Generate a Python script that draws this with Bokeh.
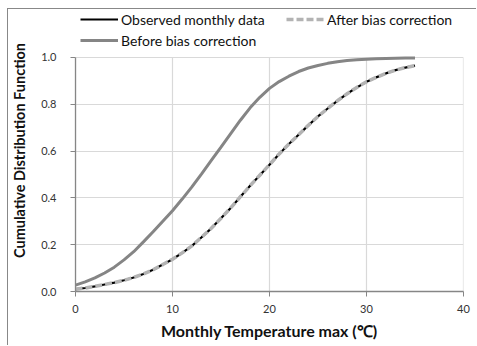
from bokeh.plotting import figure
from bokeh.models import Legend, LegendItem, NumeralTickFormatter, FixedTicker, Range1d
from bokeh.embed import file_html
from bokeh.resources import INLINE

# Temperatures (deg C) at which the curves were read
temp = [0, 1, 2, 3, 4, 5, 6, 7, 8, 9, 10, 11, 12, 13, 14, 15, 16, 17, 18,
        19, 20, 21, 22, 23, 24, 25, 26, 27, 28, 29, 30, 31, 32, 33, 34, 35]

# Observed monthly data (CDF)
obs_y = [0.010, 0.015, 0.022, 0.030, 0.038, 0.048, 0.060, 0.075, 0.093, 0.115,
         0.138, 0.165, 0.195, 0.232, 0.270, 0.313, 0.357, 0.405, 0.452, 0.497,
         0.542, 0.588, 0.630, 0.670, 0.710, 0.748, 0.782, 0.815, 0.845, 0.872,
         0.896, 0.915, 0.932, 0.946, 0.957, 0.965]

# After bias correction (CDF)
aft_y = [0.010, 0.015, 0.022, 0.030, 0.038, 0.048, 0.060, 0.075, 0.093, 0.115,
         0.138, 0.165, 0.195, 0.232, 0.270, 0.313, 0.357, 0.405, 0.452, 0.497,
         0.542, 0.588, 0.630, 0.670, 0.710, 0.748, 0.782, 0.815, 0.845, 0.872,
         0.896, 0.915, 0.932, 0.946, 0.957, 0.965]

# Before bias correction (CDF)
bef_y = [0.027, 0.041, 0.058, 0.079, 0.104, 0.135, 0.170, 0.212, 0.255, 0.300,
         0.345, 0.395, 0.447, 0.503, 0.560, 0.617, 0.675, 0.732, 0.785, 0.830,
         0.868, 0.897, 0.920, 0.940, 0.955, 0.966, 0.975, 0.982, 0.987, 0.990,
         0.993, 0.995, 0.996, 0.997, 0.998, 0.998]

x_ticks = [0, 10, 20, 30, 40]
y_ticks = [0.0, 0.2, 0.4, 0.6, 0.8, 1.0]

FONT = "Lato"
GRID = "#d9d9d9"
AXIS = "#868686"

p = figure(width=469, height=337, output_backend="svg", toolbar_location=None,
           x_range=Range1d(0, 40), y_range=Range1d(0, 1.2051),
           min_border_left=66, min_border_right=14, min_border_top=0,
           min_border_bottom=55)
p.styles = {"margin-left": "7px", "margin-top": "8px",
            "border-left": "1px solid #888888", "border-top": "1px solid #888888"}

p.outline_line_color = None
p.background_fill_color = "white"

# vertical gridlines only over the 0..1 span
p.xgrid.grid_line_color = None
p.segment(x0=x_ticks, y0=[y_ticks[0]] * len(x_ticks), x1=x_ticks,
          y1=[y_ticks[-1]] * len(x_ticks), line_color=GRID, line_width=1.2,
          level="underlay")
p.ygrid.grid_line_color = GRID
p.ygrid.grid_line_width = 1.2

r_bef = p.line(temp, bef_y, line_color="#858585", line_width=3)
r_obs = p.line(temp, obs_y, line_color="black", line_width=2.2)
r_aft = p.line(temp, aft_y, line_color="#b3b3b3", line_width=3.5, line_dash="7 3")

for ax in (p.xaxis[0], p.yaxis[0]):
    ax.axis_line_color = AXIS
    ax.axis_line_width = 1.3
    ax.major_tick_line_color = AXIS
    ax.major_tick_in = 0
    ax.major_tick_out = 5
    ax.minor_tick_line_color = None
    ax.major_label_text_font = FONT
    ax.major_label_text_font_size = "11px"
    ax.major_label_text_color = "#333333"
    ax.axis_label_text_font = FONT
    ax.axis_label_text_font_style = "bold"
    ax.axis_label_text_color = "#111111"

p.xaxis.ticker = FixedTicker(ticks=x_ticks)
p.yaxis.ticker = FixedTicker(ticks=y_ticks)
p.yaxis.bounds = (y_ticks[0], y_ticks[-1])
p.yaxis.formatter = NumeralTickFormatter(format="0.0")
p.xaxis.axis_label = "Monthly Temperature max (℃)"
p.yaxis.axis_label = "Cumulative Distribution Function"
p.xaxis.axis_label_text_font_size = "16px"
p.yaxis.axis_label_text_font_size = "14.5px"
p.xaxis.major_label_standoff = 8
p.yaxis.major_label_standoff = 14
p.xaxis.axis_label_standoff = 5
p.yaxis.axis_label_standoff = 10

legend = Legend(items=[LegendItem(label="Observed monthly data", renderers=[r_obs]),
                       LegendItem(label="After bias correction", renderers=[r_aft]),
                       LegendItem(label="Before bias correction", renderers=[r_bef])],
                orientation="horizontal", ncols=2, location=(5, 242),
                border_line_color=None, background_fill_alpha=0,
                label_text_font=FONT, label_text_font_size="14px",
                label_text_color="#111111", glyph_width=38, glyph_height=18,
                label_standoff=3, spacing=3, padding=0, margin=0,
                label_height=18, label_width=162)
p.add_layout(legend, "center")

open("out.html", "w").write(file_html(p, INLINE))
